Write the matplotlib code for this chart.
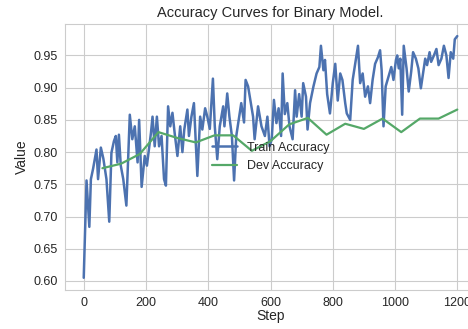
import matplotlib
matplotlib.use("Agg")
import matplotlib.pyplot as plt
import seaborn as sns

# Train accuracy (step, value)
train_steps = [0, 9, 18, 23, 30, 41, 46, 55, 63, 73, 82, 89, 97, 103, 108, 113, 119, 127,
               137, 148, 156, 164, 173, 178, 186, 196, 203, 216, 221, 228, 235, 242, 250,
               258, 264, 271, 278, 285, 292, 301, 310, 317, 323, 333, 338, 346, 354, 359,
               365, 374, 381, 390, 397, 405, 415, 421, 429, 437, 448, 452, 461, 468, 476,
               483, 490, 498, 506, 515, 520, 528, 537, 544, 549, 560, 571, 582, 590, 597,
               604, 611, 619, 626, 634, 639, 646, 654, 661, 671, 679, 684, 692, 700, 705,
               714, 719, 727, 738, 748, 757, 762, 770, 775, 782, 791, 800, 808, 816, 824,
               831, 840, 845, 856, 864, 872, 881, 888, 896, 904, 913, 920, 928, 936, 945,
               952, 957, 963, 970, 979, 988, 995, 1003, 1007, 1012, 1017, 1023, 1028, 1037,
               1044, 1052, 1058, 1067, 1075, 1083, 1089, 1097, 1103, 1111, 1116, 1125, 1133,
               1140, 1149, 1157, 1165, 1172, 1179, 1187, 1192, 1200]
train_acc = [0.605, 0.756, 0.684, 0.758, 0.774, 0.804, 0.758, 0.807, 0.790, 0.758, 0.692,
             0.799, 0.817, 0.825, 0.784, 0.827, 0.779, 0.758, 0.717, 0.858, 0.820, 0.840,
             0.784, 0.850, 0.746, 0.794, 0.779, 0.830, 0.855, 0.809, 0.855, 0.809, 0.825,
             0.758, 0.748, 0.871, 0.840, 0.861, 0.830, 0.794, 0.840, 0.800, 0.835, 0.866,
             0.825, 0.855, 0.876, 0.825, 0.763, 0.855, 0.835, 0.868, 0.855, 0.836, 0.914,
             0.840, 0.789, 0.840, 0.871, 0.840, 0.891, 0.855, 0.825, 0.756, 0.825, 0.850,
             0.876, 0.846, 0.912, 0.902, 0.876, 0.855, 0.820, 0.871, 0.840, 0.825, 0.855,
             0.809, 0.820, 0.881, 0.845, 0.868, 0.825, 0.922, 0.859, 0.876, 0.840, 0.820,
             0.896, 0.855, 0.890, 0.855, 0.907, 0.886, 0.835, 0.876, 0.902, 0.922, 0.932,
             0.965, 0.927, 0.943, 0.890, 0.860, 0.907, 0.937, 0.880, 0.922, 0.912, 0.876,
             0.860, 0.850, 0.912, 0.937, 0.965, 0.907, 0.922, 0.886, 0.902, 0.876, 0.912,
             0.937, 0.947, 0.958, 0.927, 0.840, 0.902, 0.917, 0.932, 0.912, 0.943, 0.950,
             0.930, 0.945, 0.858, 0.965, 0.930, 0.894, 0.925, 0.955, 0.945, 0.930, 0.899,
             0.919, 0.945, 0.935, 0.955, 0.940, 0.950, 0.960, 0.935, 0.945, 0.965, 0.950,
             0.915, 0.955, 0.945, 0.975, 0.980]

# Dev accuracy, evaluated every 60 steps
dev_steps = [60, 120, 180, 240, 300, 360, 420, 480, 540, 600, 660, 720, 780, 840, 900,
             960, 1020, 1080, 1140, 1200]
dev_acc = [0.775, 0.782, 0.797, 0.831, 0.822, 0.815, 0.826, 0.826, 0.802, 0.817, 0.843,
           0.853, 0.827, 0.844, 0.836, 0.852, 0.831, 0.852, 0.852, 0.866]

sns.set_style("whitegrid")
plt.rcParams['font.family'] = ['Liberation Sans', 'DejaVu Sans']

fig = plt.figure(figsize=(4.68, 3.29), dpi=100)
ax = fig.add_axes([0.139, 0.119, 0.878, 0.808])
ax.plot(train_steps, train_acc, color='#4C72B0', lw=1.8, label='Train Accuracy')
ax.plot(dev_steps, dev_acc, color='#55A868', lw=1.6, label='Dev Accuracy')
ax.set_title('Accuracy Curves for Binary Model.', fontsize=10.5, color='.15', pad=5)
ax.set_xlabel('Step', fontsize=10, color='.15', labelpad=0)
ax.set_ylabel('Value', fontsize=10, color='.15', labelpad=3)
ax.set_xticks([0, 200, 400, 600, 800, 1000, 1200])
ax.set_yticks([0.60, 0.65, 0.70, 0.75, 0.80, 0.85, 0.90, 0.95])
ax.tick_params(labelsize=9, colors='.15', pad=2)
ax.legend(loc='center', frameon=False, fontsize=9)
fig.savefig('out.png', dpi=100)
